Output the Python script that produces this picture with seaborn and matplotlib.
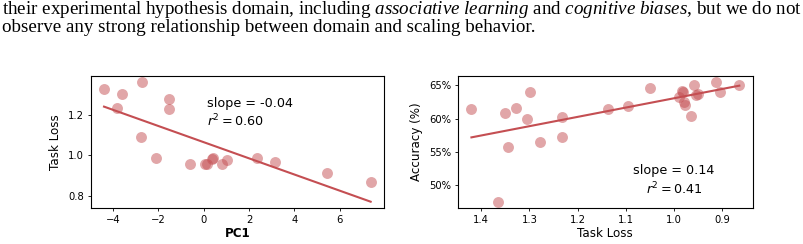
import matplotlib
matplotlib.use("Agg")
import matplotlib.pyplot as plt
import matplotlib.ticker as mtick
import seaborn as sns

# left panel: PC1 vs task loss
pc1 = [-4.40, -3.84, -3.62, -2.71, -2.78, -1.54, -1.54, -2.12, -0.62, 0.05,
       0.15, 0.35, 0.42, 0.80, 1.05, 2.37, 3.15, 5.45, 7.37]
loss_pc = [1.327, 1.233, 1.302, 1.362, 1.092, 1.278, 1.230, 0.988, 0.957, 0.955,
           0.958, 0.980, 0.985, 0.955, 0.977, 0.985, 0.968, 0.914, 0.869]

# right panel: task loss vs accuracy
loss_acc = [1.420, 1.365, 1.351, 1.344, 1.328, 1.304, 1.299, 1.277, 1.233, 1.232,
            1.138, 1.095, 1.051, 0.989, 0.984, 0.981, 0.979, 0.977, 0.965, 0.958,
            0.955, 0.951, 0.913, 0.905, 0.865]
acc = [0.615, 0.475, 0.609, 0.557, 0.616, 0.600, 0.640, 0.565, 0.603, 0.572,
       0.615, 0.619, 0.646, 0.633, 0.641, 0.640, 0.625, 0.621, 0.604, 0.650,
       0.635, 0.637, 0.655, 0.640, 0.650]

line1 = ("their experimental hypothesis domain, including "
         r"$\mathit{associative\ learning}$ and $\mathit{cognitive\ biases}$"
         ", but we do not")
line2 = "observe any strong relationship between domain and scaling behavior."

red = "#C44E52"
plt.rcParams["mathtext.fontset"] = "custom"
plt.rcParams["mathtext.rm"] = "Liberation Serif"
plt.rcParams["mathtext.it"] = "Liberation Serif:italic"

fig = plt.figure(figsize=(8.04, 2.44), dpi=100)

# paragraph text at the top, scaled so line 1 spans the page width
t1 = fig.text(0.003, 1 - 13.5 / 244, line1, family="Liberation Serif",
              fontsize=11, va="baseline")
t2 = fig.text(0.003, 1 - 32.5 / 244, line2, family="Liberation Serif",
              fontsize=11, va="baseline")
fig.canvas.draw()
w = t1.get_window_extent().width
size = 11 * 797 / w
t1.set_fontsize(size)
t2.set_fontsize(size)

ax1 = fig.add_axes([0.1128, 0.1488, 0.3648, 0.5398])
ax2 = fig.add_axes([0.5697, 0.1488, 0.3665, 0.5398])

scat = {"s": 62, "alpha": 0.5, "linewidths": 0}
sns.regplot(x=pc1, y=loss_pc, ax=ax1, ci=None, color=red,
            scatter_kws=scat, line_kws={"lw": 1.5})
sns.regplot(x=loss_acc, y=acc, ax=ax2, ci=None, color=red,
            scatter_kws=scat, line_kws={"lw": 1.5})

ax1.set_xlabel("PC1", fontsize=8.6, fontweight="bold", labelpad=2)
ax1.set_ylabel("Task Loss", fontsize=8.6)
ax1.text(0.395, 0.767, "slope = -0.04", transform=ax1.transAxes,
         fontsize=9.2, va="baseline")
ax1.text(0.395, 0.62, r"$r^2 = 0.60$", transform=ax1.transAxes,
         fontsize=9.2, va="baseline", math_fontfamily="dejavusans")

ax2.invert_xaxis()
ax2.yaxis.set_major_locator(mtick.MultipleLocator(0.05))
ax2.yaxis.set_major_formatter(mtick.PercentFormatter(1.0, decimals=0))
ax2.set_xlabel("Task Loss", fontsize=8.6, labelpad=2)
ax2.set_ylabel("Accuracy (%)", fontsize=8.6)
ax2.text(0.733, 0.256, "slope = 0.14", transform=ax2.transAxes,
         fontsize=9.2, va="baseline", ha="center")
ax2.text(0.733, 0.104, r"$r^2 = 0.41$", transform=ax2.transAxes,
         fontsize=9.2, va="baseline", ha="center", math_fontfamily="dejavusans")

for ax in (ax1, ax2):
    ax.tick_params(labelsize=7.2, length=2.5, width=0.6, pad=2.5)
    for sp in ax.spines.values():
        sp.set_linewidth(0.8)

fig.savefig("out.png", dpi=100)
